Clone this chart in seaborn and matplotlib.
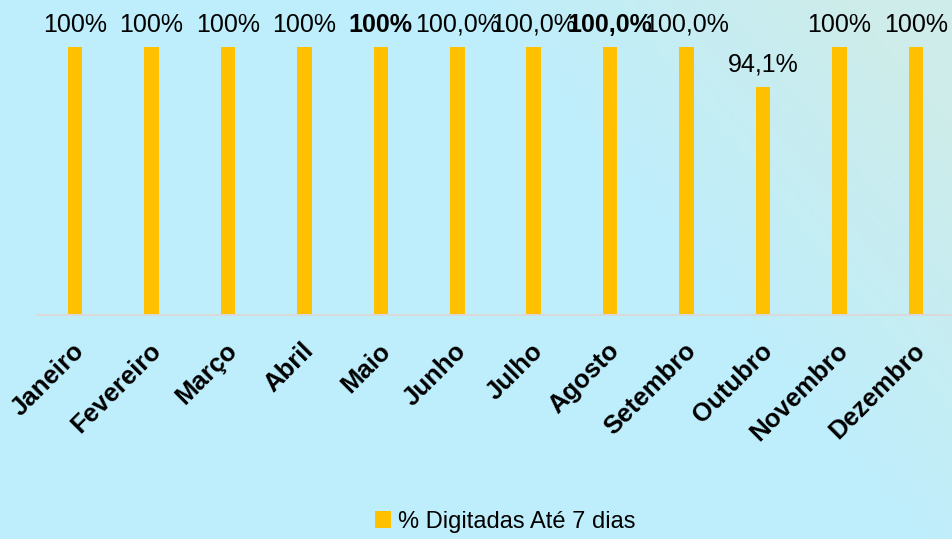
import matplotlib
matplotlib.use("Agg")
import matplotlib.pyplot as plt
import matplotlib.transforms as mtransforms
import seaborn as sns
import numpy as np
import pandas as pd
from matplotlib.colors import LinearSegmentedColormap

sns.set_style("white")
plt.rcParams['font.family'] = ['Liberation Sans', 'DejaVu Sans']

months = ["Janeiro", "Fevereiro", "Março", "Abril", "Maio", "Junho",
          "Julho", "Agosto", "Setembro", "Outubro", "Novembro", "Dezembro"]
values = [100, 100, 100, 100, 100, 100.0, 100.0, 100.0, 100.0, 94.1, 100, 100]
value_labels = ["100%", "100%", "100%", "100%", "100%", "100,0%",
                "100,0%", "100,0%", "100,0%", "94,1%", "100%", "100%"]
label_bold = [False, False, False, False, True, False,
              False, True, False, False, False, False]
series_name = "% Digitadas Até 7 dias"

df = pd.DataFrame({"mes": months, "valor": values})

fig = plt.figure(figsize=(9.53, 5.39), dpi=100)

# gradient background
bg = fig.add_axes([0, 0, 1, 1], zorder=-10)
cmap = LinearSegmentedColormap.from_list("bg", ["#BEEEFC", "#BFEEFB", "#CDECEA"])
xx, yy = np.meshgrid(np.linspace(0, 1, 200), np.linspace(0, 1, 120))
grad = np.clip((xx - 0.45) * 1.3 + (yy - 0.3) * 0.6, 0, 1)
bg.imshow(grad, cmap=cmap, aspect="auto", extent=[0, 1, 0, 1], origin="lower", vmin=0, vmax=1)
bg.axis("off")

ax = fig.add_axes([37/953, 1-315/539, 917/953, 268/539])
ax.patch.set_alpha(0)
sns.barplot(data=df, x="mes", y="valor", color="#FFC000", width=0.19,
            saturation=1, ax=ax, label=series_name, linewidth=0, edgecolor="none")
ax.set_ylim(60, 100)
ax.set_xlim(-0.5, 11.5)
ax.set_xlabel("")
ax.set_ylabel("")
ax.set_yticks([])
for s in ["top", "right", "left"]:
    ax.spines[s].set_visible(False)
ax.spines["bottom"].set_color("#D9D9D9")
ax.spines["bottom"].set_linewidth(1.5)
ax.tick_params(axis="x", length=0, pad=17)
ax.set_xticks(range(len(months)))
ax.set_xticklabels(months, rotation=45, ha="right", rotation_mode="anchor",
                   fontsize=18.5, fontweight="bold", color="black")
offset = mtransforms.ScaledTranslation(-3/100, 0, fig.dpi_scale_trans)
for lbl in ax.get_xticklabels():
    lbl.set_transform(lbl.get_transform() + offset)

for i, (v, lab, b) in enumerate(zip(values, value_labels, label_bold)):
    ax.annotate(lab, (i, v), xytext=(0, 11), textcoords="offset points",
                ha="center", va="baseline", fontsize=18,
                fontweight="bold" if b else "normal", color="black",
                annotation_clip=False)

if ax.legend_:
    ax.legend_.remove()
h, l = ax.get_legend_handles_labels()
fig.legend(h, l, loc="center", bbox_to_anchor=(0.53, 1-522/539), frameon=False,
           fontsize=17, handlelength=0.7, handleheight=0.7, handletextpad=0.3,
           labelcolor="black")

fig.savefig("out.png", dpi=100)
